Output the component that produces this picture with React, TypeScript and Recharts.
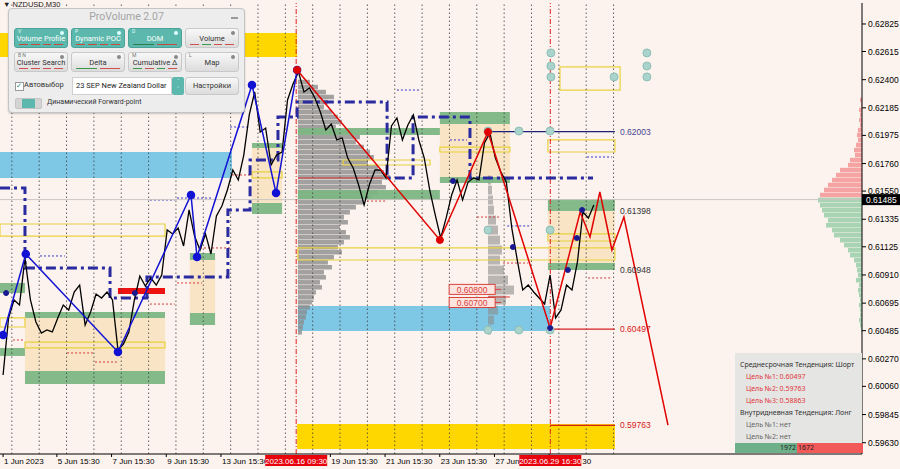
import React from 'react'
import {
  ComposedChart,
  Line,
  XAxis,
  YAxis,
  ReferenceArea,
  ReferenceLine,
  ReferenceDot,
} from 'recharts'

const BG = '#fcf3ee'
const TEAL = '#5cb8ac'

// NZDUSD M30 closes, one every 0.2 trading day starting 1 Jun afternoon
const closeStart = 0.68
const closeStep = 0.2
const closes = [
  0.60147, 0.60582, 0.60719, 0.60681, 0.61039, 0.60719, 0.60551, 0.60467, 0.6049, 0.60475,
  0.60582, 0.60681, 0.60643, 0.6078, 0.60833, 0.60528, 0.60627, 0.60765, 0.60734, 0.6078,
  0.60719, 0.60338, 0.60383, 0.60475, 0.60719, 0.60902, 0.60826, 0.60887, 0.60833, 0.6091,
  0.61253, 0.61223, 0.61268, 0.61131, 0.61406, 0.61207, 0.611, 0.61223, 0.6107, 0.6136,
  0.61436, 0.61558, 0.61711, 0.61635, 0.61825, 0.62131, 0.62306, 0.62001, 0.62031, 0.61749,
  0.61825, 0.61848, 0.62245, 0.62367, 0.62459, 0.62306, 0.62337, 0.6226, 0.62153, 0.62016,
  0.62062, 0.6194, 0.61955, 0.61802, 0.61726, 0.61596, 0.61444, 0.61604, 0.61711, 0.61711,
  0.6165, 0.62047, 0.62108, 0.6194, 0.62054, 0.62131, 0.6194, 0.61802, 0.61558, 0.61368,
  0.61192, 0.61345, 0.6152, 0.61635, 0.61482, 0.61619, 0.6165, 0.61635, 0.61917, 0.61993,
  0.61802, 0.61696, 0.61619, 0.61268, 0.61024, 0.60795, 0.60833, 0.6078, 0.60734, 0.60688,
  0.6091, 0.60582, 0.60643, 0.60833, 0.60795, 0.61009, 0.6139, 0.61345, 0.61444,
]
const currentPrice = 0.61485

// zigzags (trading day, price)
const blueZigDays = [0.68, 1.51, 4.88, 7.55, 7.77, 9.78, 10.66, 11.43]
const blueZigPrices = [0.60452, 0.6107, 0.60322, 0.6152, 0.61047, 0.6236, 0.61535, 0.62474]
const redZigDays = [11.43, 16.65, 18.41, 20.68, 21.78, 22.14, 22.5, 22.94, 23.38, 24.99]
const redZigPrices = [0.62474, 0.61177, 0.62001, 0.60505, 0.6139, 0.612, 0.61543, 0.61101, 0.61352, 0.59765]

// dash-dot level path
const levelPathDays = [0.567, 1.48, 1.48, 4.59, 4.59, 5.94, 5.94, 8.9, 8.9, 9.71, 9.71, 10.73, 10.73, 11.43, 11.43, 14.72, 14.72, 15.67, 15.67, 17.75, 17.75, 22.25]
const levelPathPrices = [0.61574, 0.61574, 0.60963, 0.60963, 0.60734, 0.60734, 0.60895, 0.60895, 0.61406, 0.61406, 0.61787, 0.61787, 0.62115, 0.62115, 0.6223, 0.6223, 0.6165, 0.6165, 0.62115, 0.62115, 0.6165, 0.6165]

// zones: [day from, day to, price low, price high]
const goldZones = [
  [0.567, 11.43, 0.62573, 0.62756],
  [11.43, 23.05, 0.59582, 0.59773],
]
const skyZones = [
  [0.567, 9.05, 0.6165, 0.61848],
  [11.46, 20.68, 0.60482, 0.60673],
]
const greenZones = [
  [11.46, 16.65, 0.61978, 0.62031],
  [11.46, 16.65, 0.61482, 0.61558],
  [16.65, 19.21, 0.62062, 0.62153],
  [16.65, 19.21, 0.61612, 0.61658],
  [20.6, 23.05, 0.61398, 0.6149],
  [20.6, 23.05, 0.60948, 0.61001],
  [1.48, 6.6, 0.60582, 0.60627],
  [1.48, 6.6, 0.60078, 0.60177],
  [0.567, 1.48, 0.60772, 0.60849],
  [0.567, 1.48, 0.60292, 0.60353],
  [7.51, 8.43, 0.61024, 0.61078],
  [7.51, 8.43, 0.60528, 0.6062],
  [9.78, 10.88, 0.61879, 0.61917],
  [9.78, 10.88, 0.61375, 0.61459],
]
const sandZones = [
  [1.48, 6.6, 0.60177, 0.60582],
  [7.51, 8.43, 0.6062, 0.61024],
  [9.78, 10.88, 0.61459, 0.61879],
  [16.65, 19.21, 0.61658, 0.62062],
  [20.6, 23.05, 0.61001, 0.61398],
]
const redBars = [[4.88, 6.6, 0.60765, 0.60811]]
const boxZones = [
  [0.567, 6.6, 0.61207, 0.61299],
  [1.48, 6.6, 0.60353, 0.60398],
  [0.567, 1.48, 0.60513, 0.60582],
  [11.46, 23.05, 0.61024, 0.61116],
  [20.6, 23.05, 0.61848, 0.6194],
  [20.6, 23.05, 0.61169, 0.61223],
  [16.65, 19.21, 0.61848, 0.61886],
  [13.11, 16.29, 0.61749, 0.61787],
  [21.04, 23.24, 0.62321, 0.62497],
  [9.78, 10.88, 0.6165, 0.61696],
]

// short dotted levels: [day from, day to, price]
const blueTicks = [
  [2.03, 2.94, 0.61055], [6.05, 6.96, 0.61482], [7.04, 8.36, 0.61497], [8.98, 9.71, 0.62039],
  [15.08, 15.92, 0.62321], [17.02, 17.64, 0.6194], [19.11, 19.95, 0.61284], [22.03, 22.94, 0.6181],
]
const redTicks = [
  [1.04, 1.48, 0.60414], [3.02, 3.97, 0.60315], [4.04, 4.84, 0.60246], [6.05, 6.96, 0.60688],
  [7.04, 7.95, 0.60849], [7.88, 8.98, 0.61116], [9.05, 9.71, 0.61673], [13.99, 14.72, 0.61474],
  [18.01, 18.85, 0.61352], [18.96, 19.87, 0.61001], [22.07, 22.94, 0.60887],
]

// volume profiles (row volumes from top price, fixed price step)
const mainProfileStart = 11.46
const mainProfileTop = 0.62382
const profileStep = 0.000382
const mainProfileVol = [
  12, 20, 28, 36, 30, 26, 34, 40, 44, 38, 55, 62, 58, 66, 72, 76, 70, 80, 86, 92,
  84, 88, 80, 74, 66, 58, 52, 46, 50, 42, 48, 52, 46, 40, 44, 36, 30, 34, 26, 28,
  22, 24, 18, 16, 14, 12, 9, 8, 6, 5, 4,
]
const smallProfileStart = 18.41
const smallProfileTop = 0.61634
const smallProfileStep = 0.000763
const smallProfileVol = [3, 4, 5, 6, 8, 10, 12, 14, 12, 16, 20, 26, 18, 10, 6, 3]
const sideProfileTop = 0.62245
const sideProfileVol = [
  2, 1, 3, 2, 3, 2, 4, 5, 4, 6, 8, 7, 12, 14, 22, 26, 30, 34, 38, 42,
  44, 42, 40, 38, 34, 36, 30, 28, 22, 18, 14, 12, 8, 6, 5, 4, 6, 3, 4, 3,
  2, 3, 2, 2, 3, 2, 1,
]

const tealDotDays = [18.41, 19.54, 20.68, 18.41, 20.68, 18.41, 19.54, 20.68, 20.71, 24.22, 20.71, 24.22, 20.71, 23.02, 24.22]
const tealDotPrices = [0.62008, 0.62008, 0.62008, 0.61253, 0.61253, 0.6049, 0.6049, 0.6049, 0.62604, 0.62604, 0.62504, 0.62504, 0.62421, 0.62421, 0.62421]
const navyDotDays = [0.79, 5.5, 17.13, 19.32, 21.33, 21.66, 21.85, 20.68]
const navyDotPrices = [0.60772, 0.60772, 0.61627, 0.61123, 0.60948, 0.61192, 0.61406, 0.60505]

const yTicks = [0.62825, 0.62615, 0.624, 0.62185, 0.61975, 0.6176, 0.6155, 0.61335, 0.61125, 0.6091, 0.60695, 0.60485, 0.6027, 0.6006, 0.59845, 0.5963]
const gridDays = [1, 2, 3, 4, 5, 6, 7, 8, 9, 10, 11, 12, 13, 14, 15, 16, 17, 18, 19, 20, 21, 22, 23]
const dateTickDays = [0.68, 2.646, 4.646, 6.646, 8.646, 12.646, 14.646, 16.646, 18.646, 20.646]
// the last two labels are partly covered by the red marker in the terminal
const dateTickLabels = ['1 Jun 2023', '5 Jun 15:30', '7 Jun 15:30', '9 Jun 15:30', '13 Jun 15:30', '19 Jun 15:30', '21 Jun 15:30', '23 Jun 15:30', '27 Jun', '30']
const markerDays = [11.396, 20.6875]
const markerLabels = ['2023.06.16 09:30', '2023.06.29 16:30']

const priceData = closes.map((p, i) => ({ d: closeStart + i * closeStep, p }))
const blueZig = blueZigDays.map((d, i) => ({ d, p: blueZigPrices[i] }))
const redZig = redZigDays.map((d, i) => ({ d, p: redZigPrices[i] }))
const levelPath = levelPathDays.map((d, i) => ({ d, p: levelPathPrices[i] }))
const tealDots = tealDotDays.map((d, i) => ({ d, p: tealDotPrices[i] }))
const navyDots = navyDotDays.map((d, i) => ({ d, p: navyDotPrices[i] }))
const redDots = redZig.slice(0, 3)

const PX_DAY = 27.35

function DateTick(props: any) {
  const { x, y, payload } = props
  const m = markerDays.indexOf(payload.value)
  if (m >= 0) {
    return (
      <g>
        <rect x={x - 31} y={y + 1} width={62} height={11} fill="#e8000b" />
        <text x={x} y={y + 10} textAnchor="middle" fontSize={8} fill="#fff" fontFamily="Liberation Sans">
          {markerLabels[m]}
        </text>
      </g>
    )
  }
  const i = dateTickDays.indexOf(payload.value)
  const label = i >= 0 ? dateTickLabels[i] : ''
  const tail = label === '30'
  return (
    <g>
      <line x1={x} x2={x} y1={y} y2={y + 3} stroke="#000" />
      <text x={tail ? x + 42 : x + 1} y={y + 10} textAnchor={tail ? 'end' : 'start'} fontSize={8} fill="#000" fontFamily="Liberation Sans">
        {label}
      </text>
    </g>
  )
}

function zone(z: number[], key: string, fill: string, opacity = 1, stroke?: string) {
  return (
    <ReferenceArea
      key={key}
      x1={z[0]}
      x2={z[1]}
      y1={z[2]}
      y2={z[3]}
      fill={fill}
      fillOpacity={opacity}
      stroke={stroke}
      strokeWidth={stroke ? 1.2 : 0}
      ifOverflow="hidden"
    />
  )
}

function PriceBox({ cx, cy, text }: any) {
  return (
    <g>
      <rect x={cx - 23} y={cy - 5} width={46} height={10} fill="#fde4df" stroke="#d8413a" />
      <text x={cx} y={cy + 3.5} textAnchor="middle" fontSize={8.5} fill="#d8413a" fontFamily="Liberation Sans">{text}</text>
      <line x1={cx + 23} x2={cx + 29} y1={cy} y2={cy} stroke="#d8413a" />
    </g>
  )
}

function Btn({ left, top, label, active, tag, marks }: any) {
  return (
    <div
      style={{
        position: 'absolute', left, top, width: 54, height: 20, borderRadius: 3, boxSizing: 'border-box',
        background: active ? TEAL : 'linear-gradient(#f8f8f8,#dcdcdc)',
        border: '1px solid ' + (active ? '#4aa396' : '#c9c9c9'),
        color: active ? '#fff' : '#333', fontSize: 7.5, textAlign: 'center', lineHeight: '19px',
      }}
    >
      <span style={{ position: 'absolute', left: 3, top: -7, fontSize: 5, color: active ? '#e4fffb' : '#777' }}>{tag}</span>
      <span style={{ position: 'absolute', right: 3, top: 2, width: 4, height: 4, borderRadius: 2, background: active ? '#dff' : '#888' }} />
      {label}
      <div style={{ position: 'absolute', left: 4, right: 4, bottom: 2, height: 1, display: 'flex', gap: 3 }}>
        {marks.map((c: string, i: number) => (
          <div key={i} style={{ flex: 1, height: 1, background: c }} />
        ))}
      </div>
    </div>
  )
}

function ProVolumePanel() {
  return (
    <div
      style={{
        position: 'absolute', left: 8, top: 8, width: 237, height: 105, borderRadius: 4,
        background: '#ededed', border: '1px solid #c4c4c4', boxSizing: 'border-box',
        fontFamily: 'Roboto, "Noto Sans", sans-serif', boxShadow: '0 1px 2px rgba(0,0,0,0.2)',
      }}
    >
      <div style={{ position: 'absolute', left: 0, right: 0, top: 1, textAlign: 'center', fontSize: 10.5, color: '#a4a4a4' }}>ProVolume 2.07</div>
      <div style={{ position: 'absolute', right: 6, top: 8, width: 7, height: 1.5, background: '#999' }} />
      <Btn left={5} top={19} label="Volume Profile" active tag="V" marks={['#c84a3c', '#c84a3c', '#c84a3c', '#c84a3c']} />
      <Btn left={62} top={19} label="Dynamic POC" active tag="P" marks={['#c84a3c', '#c84a3c', '#c84a3c', '#c84a3c']} />
      <Btn left={119} top={19} label="DOM" active tag="D" marks={['#2e7d4f', '#c84a3c']} />
      <Btn left={176} top={19} label="Volume" tag="" marks={['#d05050', '#3a9a4a', '#d05050', '#d05050']} />
      <Btn left={5} top={43} label="Cluster Search" tag="B N" marks={['#d05050', '#d05050', '#d05050', '#d05050']} />
      <Btn left={62} top={43} label="Delta" tag="" marks={['#3a9a4a', '#d05050']} />
      <Btn left={119} top={43} label="Cumulative Δ" tag="M" marks={['#3a9a4a', '#d05050', '#3a9a4a', '#d05050']} />
      <Btn left={176} top={43} label="Map" tag="L" marks={[]} />
      <div style={{ position: 'absolute', left: 6, top: 73, width: 7, height: 7, border: '1px solid #999', background: '#fff', fontSize: 7, lineHeight: '7px', color: '#2a8a7e' }}>✓</div>
      <div style={{ position: 'absolute', left: 15, top: 71, fontSize: 7.5, color: '#333' }}>Автовыбор</div>
      <div style={{ position: 'absolute', left: 63, top: 68, width: 100, height: 18, background: '#fff', border: '1px solid #cfcfcf', boxSizing: 'border-box', fontSize: 7.5, lineHeight: '16px', paddingLeft: 3, color: '#222' }}>
        23 SEP New Zealand Dollar
      </div>
      <div style={{ position: 'absolute', left: 163, top: 68, width: 12, height: 18, background: TEAL, borderRadius: 2, color: '#fff', fontSize: 6, textAlign: 'center', lineHeight: '8px' }}>˄<br />˅</div>
      <div style={{ position: 'absolute', left: 176, top: 68, width: 54, height: 18, borderRadius: 3, background: 'linear-gradient(#f8f8f8,#dcdcdc)', border: '1px solid #c9c9c9', boxSizing: 'border-box', fontSize: 7.5, textAlign: 'center', lineHeight: '16px', color: '#333' }}>Настройки</div>
      <div style={{ position: 'absolute', left: 6, top: 89, width: 27, height: 11, borderRadius: 2, background: '#d4d4d4', border: '1px solid #c4c4c4', boxSizing: 'border-box' }}>
        <div style={{ position: 'absolute', left: 6, top: 0, width: 13, height: 9, background: TEAL }} />
      </div>
      <div style={{ position: 'absolute', left: 38, top: 89, fontSize: 7, color: '#333' }}>Динамический Forward-point</div>
    </div>
  )
}

function TrendBox() {
  const row = (text: string, color: string, indent: number, key: string) => (
    <div key={key} style={{ height: 12, lineHeight: '12px', paddingLeft: indent, color, whiteSpace: 'nowrap' }}>{text}</div>
  )
  return (
    <div
      style={{
        position: 'absolute', left: 735, top: 353, width: 127, height: 100, background: '#e5e5e3',
        fontFamily: '"Noto Sans", sans-serif', fontSize: 7, boxSizing: 'border-box', paddingTop: 6,
      }}
    >
      {row('Среднесрочная Тенденция: Шорт', '#333', 5, 'a')}
      {row('Цель №1: 0.60497', '#e0353a', 11, 'b')}
      {row('Цель №2: 0.59763', '#e0353a', 11, 'c')}
      {row('Цель №3: 0.58863', '#e0353a', 11, 'd')}
      {row('Внутридневная Тенденция: Лонг', '#333', 5, 'e')}
      {row('Цель №1: нет', '#666', 11, 'f')}
      {row('Цель №2: нет', '#666', 11, 'g')}
      <div style={{ position: 'absolute', left: 0, top: 90, width: 62, height: 10, background: '#6db08a', textAlign: 'right', lineHeight: '10px', color: '#222', paddingRight: 1, boxSizing: 'border-box' }}>1972</div>
      <div style={{ position: 'absolute', left: 62, top: 90, width: 65, height: 10, background: '#f25a5a', lineHeight: '10px', color: '#222', paddingLeft: 1 }}>1672</div>
    </div>
  )
}

export default function App() {
  const xMax = 32.084
  return (
    <div style={{ position: 'absolute', left: 0, top: 0, width: 900, height: 469, background: BG, overflow: 'hidden', fontFamily: '"Liberation Sans", Arial, sans-serif' }}>
      <ComposedChart width={900} height={469} margin={{ top: 3, right: 0, bottom: 0, left: 0 }}>
        <XAxis
          type="number"
          dataKey="d"
          domain={[0.567, xMax]}
          ticks={[...dateTickDays, ...markerDays]}
          interval={0}
          tick={(p: any) => <DateTick {...p} />}
          tickLine={false}
          tickSize={0}
          tickMargin={0}
          axisLine={{ stroke: '#000' }}
          height={15}
          allowDataOverflow
        />
        <YAxis
          orientation="right"
          type="number"
          domain={[0.59544, 0.62985]}
          ticks={yTicks}
          interval={0}
          width={38}
          tickFormatter={(v: number) => v.toFixed(5)}
          tick={{ fontSize: 8.5, fill: '#000', fontFamily: 'Liberation Sans' }}
          tickSize={4}
          tickMargin={2}
          tickLine={{ stroke: '#000' }}
          axisLine={{ stroke: '#000' }}
          allowDataOverflow
        />

        {gridDays.map((d) => (
          <ReferenceLine key={'g' + d} x={d} stroke="#3a3a3a" strokeDasharray="1.5 2.5" strokeWidth={0.8} />
        ))}

        {sandZones.map((z, i) => zone(z, 's' + i, '#f9dfb8', 0.75))}
        {goldZones.map((z, i) => zone(z, 'y' + i, '#ffd700'))}
        {skyZones.map((z, i) => zone(z, 'b' + i, '#7ec8e6'))}

        {mainProfileVol.map((v, i) => {
          const p = mainProfileTop - i * profileStep
          return (
            <ReferenceArea key={'mp' + i} x1={mainProfileStart} x2={mainProfileStart + v / PX_DAY} y1={p - profileStep * 0.45} y2={p + profileStep * 0.45} fill="#8c8c8c" fillOpacity={0.8} strokeWidth={0} ifOverflow="hidden" />
          )
        })}
        {smallProfileVol.map((v, i) => {
          const p = smallProfileTop - i * smallProfileStep
          return (
            <ReferenceArea key={'sp' + i} x1={smallProfileStart} x2={smallProfileStart + v / PX_DAY} y1={p - smallProfileStep * 0.45} y2={p + smallProfileStep * 0.45} fill="#8c8c8c" fillOpacity={0.6} strokeWidth={0} ifOverflow="hidden" />
          )
        })}
        {sideProfileVol.map((v, i) => {
          const p = sideProfileTop - i * profileStep
          return (
            <ReferenceArea key={'rp' + i} x1={xMax - v / PX_DAY} x2={xMax} y1={p - profileStep * 0.45} y2={p + profileStep * 0.45} fill={p > currentPrice ? '#f59a9a' : '#9fd0ad'} fillOpacity={0.9} strokeWidth={0} ifOverflow="hidden" />
          )
        })}

        {greenZones.map((z, i) => zone(z, 'gz' + i, '#7db583', 0.95))}
        {redBars.map((z, i) => zone(z, 'rb' + i, '#ee1111'))}
        {boxZones.map((z, i) => zone(z, 'bx' + i, 'none', 0, '#e8d23c'))}

        {blueTicks.map((t, i) => (
          <ReferenceLine key={'bt' + i} segment={[{ x: t[0], y: t[2] }, { x: t[1], y: t[2] }]} stroke="#3535c8" strokeDasharray="2 2" />
        ))}
        {redTicks.map((t, i) => (
          <ReferenceLine key={'rt' + i} segment={[{ x: t[0], y: t[2] }, { x: t[1], y: t[2] }]} stroke="#d03a3a" strokeDasharray="2 2" />
        ))}

        <ReferenceLine y={currentPrice} stroke="#cbc6c3" strokeWidth={1} label={(lp: any) => {
          const vb = lp.viewBox || {}
          const x = (vb.x || 0) + (vb.width || 0)
          return (
            <g>
              <rect x={x} y={vb.y - 5.5} width={38} height={11} fill="#000" />
              <text x={x + 4} y={vb.y + 3.5} fontSize={8.5} fill="#fff" fontFamily="Liberation Sans">0.61485</text>
            </g>
          )
        }} />
        <ReferenceLine segment={[{ x: 11.46, y: 0.6165 }, { x: 14.57, y: 0.6165 }]} stroke="#d33" />
        <ReferenceLine segment={[{ x: 18.41, y: 0.60742 }, { x: 19.21, y: 0.60742 }]} stroke="#d33" />
        {markerDays.map((d) => (
          <ReferenceLine key={'m' + d} x={d} stroke="#e02020" strokeDasharray="5 2 1 2" strokeWidth={1} />
        ))}

        <ReferenceLine segment={[{ x: 18.41, y: 0.62003 }, { x: 23.05, y: 0.62003 }]} stroke="#1c1f78" strokeWidth={1.3} label={{ value: '0.62003', position: 'right', fill: '#45458f', fontSize: 8.5 }} />
        <ReferenceLine segment={[{ x: 20.6, y: 0.61398 }, { x: 23.05, y: 0.61398 }]} stroke="none" label={{ value: '0.61398', position: 'right', fill: '#333', fontSize: 8.5 }} />
        <ReferenceLine segment={[{ x: 20.6, y: 0.60948 }, { x: 23.05, y: 0.60948 }]} stroke="none" label={{ value: '0.60948', position: 'right', fill: '#333', fontSize: 8.5 }} />
        <ReferenceLine segment={[{ x: 20.68, y: 0.60497 }, { x: 23.05, y: 0.60497 }]} stroke="#d62020" strokeWidth={1.3} label={{ value: '0.60497', position: 'right', fill: '#d62020', fontSize: 8.5 }} />
        <ReferenceLine segment={[{ x: 20.68, y: 0.59763 }, { x: 23.05, y: 0.59763 }]} stroke="#d62020" strokeWidth={1.3} label={{ value: '0.59763', position: 'right', fill: '#d62020', fontSize: 8.5 }} />

        <ReferenceDot x={17.83} y={0.608} r={1} shape={(p: any) => <PriceBox cx={p.cx} cy={p.cy} text="0.60800" />} />
        <ReferenceDot x={17.83} y={0.607} r={1} shape={(p: any) => <PriceBox cx={p.cx} cy={p.cy} text="0.60700" />} />

        <Line data={levelPath} dataKey="p" stroke="#2b2ba0" strokeWidth={3} strokeDasharray="10 4 3 4" dot={false} isAnimationActive={false} />
        <Line data={priceData} dataKey="p" stroke="#000" strokeWidth={1.3} dot={false} isAnimationActive={false} />
        <Line data={blueZig} dataKey="p" stroke="#1212d4" strokeWidth={1.5} dot={{ r: 3.5, fill: '#1212d4', stroke: '#1212d4' }} isAnimationActive={false} />
        <Line data={redZig} dataKey="p" stroke="#e00000" strokeWidth={1.5} dot={false} isAnimationActive={false} />
        <Line data={tealDots} dataKey="p" stroke="none" dot={{ r: 4, fill: '#a9d3cb', stroke: '#8cbfb6' }} isAnimationActive={false} />
        <Line data={redDots} dataKey="p" stroke="none" dot={{ r: 3.5, fill: '#e00000', stroke: '#e00000' }} isAnimationActive={false} />
        <Line data={navyDots} dataKey="p" stroke="none" dot={{ r: 2.5, fill: '#1a1a90', stroke: '#1a1a90' }} isAnimationActive={false} />
      </ComposedChart>

      <div style={{ position: 'absolute', left: 3, top: 0, fontSize: 7.5, color: '#222', fontFamily: 'Liberation Sans' }}>▼ NZDUSD,M30</div>
      <ProVolumePanel />
      <TrendBox />
    </div>
  )
}
